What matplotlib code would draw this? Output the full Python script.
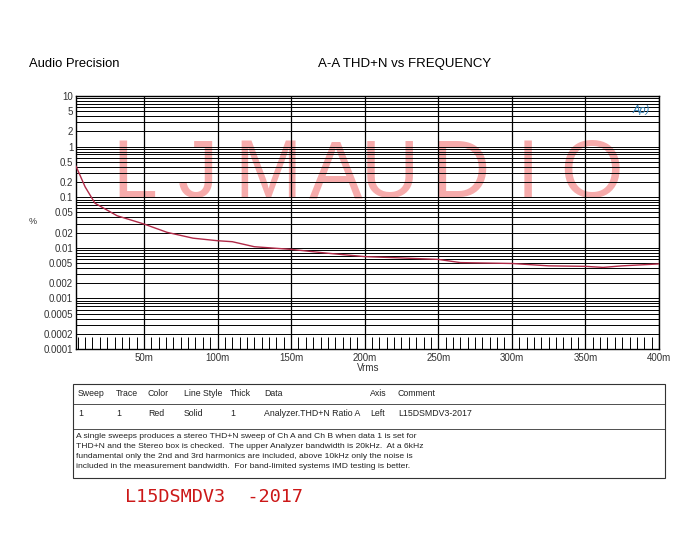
import matplotlib
matplotlib.use('Agg')
import matplotlib.pyplot as plt
import numpy as np

# sweep data (Vrms in volts, THD+N in %)
vrms = [0.0038, 0.010, 0.0167, 0.0317, 0.050, 0.0657, 0.0833, 0.100, 0.110,
        0.125, 0.150, 0.175, 0.200, 0.225, 0.250, 0.265, 0.300, 0.325,
        0.350, 0.362, 0.375, 0.400]
thdn = [0.41, 0.16, 0.076, 0.043, 0.0295, 0.0202, 0.0155, 0.0138, 0.0132,
        0.0105, 0.0093, 0.0078, 0.0067, 0.0063, 0.0059, 0.0051, 0.0049, 0.0044,
        0.0043, 0.0041, 0.0044, 0.0048]

ytick_vals = [10, 5, 2, 1, 0.5, 0.2, 0.1, 0.05, 0.02, 0.01, 0.005, 0.002,
              0.001, 0.0005, 0.0002, 0.0001]
ytick_labels = ['10', '5', '2', '1', '0.5', '0.2', '0.1', '0.05', '0.02', '0.01',
                '0.005', '0.002', '0.001', '0.0005', '0.0002', '0.0001']
xtick_vals = [0.05, 0.10, 0.15, 0.20, 0.25, 0.30, 0.35, 0.40]
xtick_labels = ['50m', '100m', '150m', '200m', '250m', '300m', '350m', '400m']

headers = ['Sweep', 'Trace', 'Color', 'Line Style', 'Thick', 'Data', 'Axis', 'Comment']
row1 = ['1', '1', 'Red', 'Solid', '1', 'Analyzer.THD+N Ratio A', 'Left', 'L15DSMDV3-2017']
note = ['A single sweeps produces a stereo THD+N sweep of Ch A and Ch B when data 1 is set for',
        'THD+N and the Stereo box is checked.  The upper Analyzer bandwidth is 20kHz.  At a 6kHz',
        'fundamental only the 2nd and 3rd harmonics are included, above 10kHz only the noise is',
        'included in the measurement bandwidth.  For band-limited systems IMD testing is better.']

plt.rcParams['font.family'] = ['Liberation Sans', 'DejaVu Sans']

W, H = 690, 534
fig = plt.figure(figsize=(W/100, H/100), dpi=100)
def fx(px): return px/W
def fy(py): return 1 - py/H

# background layer for the watermark and the table
tab = fig.add_axes([0, 0, 1, 1], facecolor='none')
tab.set_xlim(0, W)
tab.set_ylim(H, 0)
tab.axis('off')
tab.set_zorder(0)

letters = ['L', 'J', 'M', 'A', 'U', 'D', 'I', 'O']
centers = [135, 198, 268, 336, 390, 460, 528, 591]
for ch, cx in zip(letters, centers):
    tab.text(cx, 197, ch, fontsize=58, color='#f6abab',
             ha='center', va='baseline')

ax = fig.add_axes([fx(76), fy(349), fx(659-76), (349-96)/H])
ax.set_zorder(1)
ax.patch.set_alpha(0)
ax.set_yscale('log')
ax.set_ylim(0.0001, 10)
ax.set_xlim(0.0038, 0.400)

# horizontal grid at every 1..9 x decade
for k in range(-4, 1):
    for m in range(1, 10):
        ax.axhline(m*10.0**k, color='black', lw=0.7, zorder=1.5)
for xv in xtick_vals:
    ax.axvline(xv, color='black', lw=0.9, zorder=1.5)

ax.plot(vrms, thdn, color='#b02a48', lw=1.0, zorder=3)

ax.set_yticks(ytick_vals)
ax.set_yticklabels(ytick_labels)
ax.yaxis.set_minor_locator(matplotlib.ticker.NullLocator())
ax.tick_params(axis='y', length=0, pad=2, labelsize=7, labelcolor='#333333')
ax.set_xticks(xtick_vals)
ax.set_xticklabels(xtick_labels)
ax.set_xticks(np.arange(0.005, 0.400, 0.005), minor=True)
ax.tick_params(axis='x', which='both', direction='in', length=9, width=0.7,
               pad=3, labelsize=7, labelcolor='#333333')
for s in ax.spines.values():
    s.set_linewidth(1.0)

ax.text(0.985, 0.965, 'Ap)', transform=ax.transAxes, ha='right', va='top',
        fontsize=8, style='italic', color='#2f7fb5')

fig.text(fx(29), fy(64), 'Audio Precision', fontsize=9.4, ha='left', va='center')
fig.text(fx(405), fy(64), 'A-A THD+N vs FREQUENCY', fontsize=9.5, ha='center', va='center')
fig.text(fx(33), fy(222), '%', fontsize=6.5, ha='center', va='center', color='#333333')
fig.text(fx(368), fy(368), 'Vrms', fontsize=7, ha='center', va='center', color='#333333')

# table
tab.add_patch(plt.Rectangle((73, 384), 665-73, 478-384, fill=False, lw=0.8, color='#333333'))
tab.plot([73, 665], [404, 404], color='#333333', lw=0.6)
tab.plot([73, 665], [429, 429], color='#333333', lw=0.6)
colx = [78, 116, 148, 184, 230, 264, 370, 398]
for cx, h, v in zip(colx, headers, row1):
    tab.text(cx, 394, h, fontsize=6.3, ha='left', va='center', color='#222222')
    tab.text(cx, 414, v, fontsize=6.3, ha='left', va='center', color='#222222')
for i, line in enumerate(note):
    tab.text(76, 437 + i*10, line, fontsize=6.1, ha='left', va='center', color='#222222')

tab.text(125, 497, 'L15DSMDV3  -2017', fontsize=13.3, family='DejaVu Sans Mono',
         ha='left', va='center', color='#cc1818')

fig.savefig('out.png', dpi=100)
